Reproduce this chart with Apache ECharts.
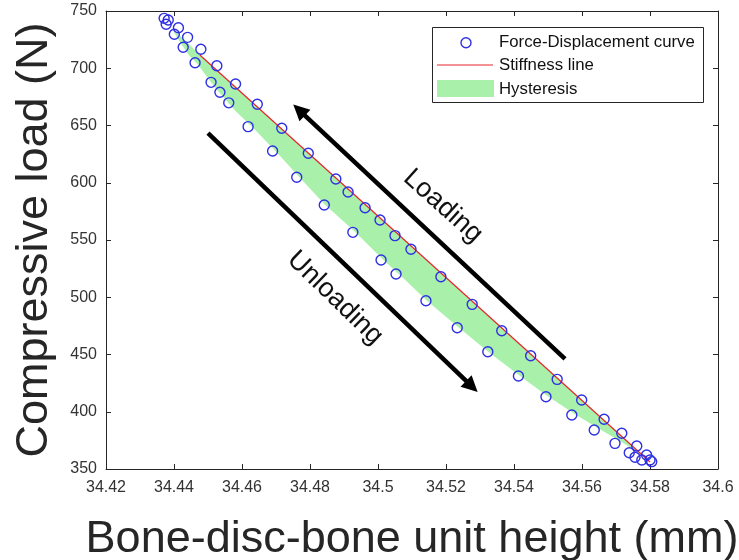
<!DOCTYPE html>
<html>
<head>
<meta charset="utf-8">
<script src="https://cdn.jsdelivr.net/npm/echarts@6/dist/echarts.min.js"></script>
<style>
  html, body { margin: 0; padding: 0; background: #ffffff; }
  #chart { width: 739px; height: 560px; }
</style>
</head>
<body>
<div id="chart"></div>
<script>
// Loading branch (height decreasing, load increasing): unit height in mm, load in N
const loadingHeight = [34.5805, 34.5790, 34.5761, 34.5717, 34.5665, 34.5599, 34.5527, 34.5449, 34.5364,
  34.5277, 34.5185, 34.5097, 34.5050, 34.5006, 34.4962, 34.4912, 34.4876, 34.4795, 34.4717, 34.4645,
  34.4581, 34.4526, 34.4479, 34.4440, 34.4413, 34.4383, 34.4371];
const loadingForce = [356.4, 362.2, 370.1, 381.2, 393.4, 410.3, 428.3, 448.9, 470.8,
  493.8, 517.9, 541.9, 553.8, 567.5, 578.2, 591.9, 603.3, 625.7, 647.6, 668.5,
  686.2, 702.2, 716.6, 727.0, 735.4, 742.1, 743.6];

// Unloading branch
const unloadingHeight = [34.4377, 34.4401, 34.4427, 34.4462, 34.4509, 34.4535, 34.4561, 34.4618, 34.4690,
  34.4761, 34.4842, 34.4926, 34.5009, 34.5053, 34.5141, 34.5233, 34.5323, 34.5413, 34.5494, 34.5570,
  34.5636, 34.5697, 34.5739, 34.5756, 34.5776, 34.5800];
const unloadingForce = [738.4, 729.7, 718.3, 704.8, 687.7, 679.0, 669.8, 649.0, 627.7,
  604.8, 580.6, 556.7, 532.5, 520.3, 496.9, 473.4, 452.4, 431.2, 413.1, 397.2,
  384.1, 372.4, 364.2, 360.2, 357.9, 357.9];

// Stiffness line end points
const stiffnessHeight = [34.4476, 34.5800];
const stiffnessForce = [711.6, 356.1];

// Hysteresis band: upper (loading) edge and lower (unloading) edge, top to bottom
const hystUpperHeight = [34.4394, 34.4435, 34.4476, 34.5800];
const hystUpperForce = [734.3, 723.8, 711.6, 356.1];
const hystLowerHeight = [34.4394, 34.4416, 34.4443, 34.4469, 34.4506, 34.4537, 34.4581, 34.4636, 34.4704,
  34.4771, 34.4842, 34.4933, 34.5013, 34.5077, 34.5145, 34.5239, 34.5325, 34.5414, 34.5494,
  34.5574, 34.5646, 34.5712, 34.5763, 34.5800];
const hystLowerForce = [734.3, 723.8, 711.6, 703.7, 688.9, 677.5, 662.7, 646.9, 626.0,
  604.1, 581.4, 557.0, 533.4, 515.9, 496.7, 473.1, 452.2, 432.1, 414.6,
  398.9, 385.8, 374.5, 364.8, 356.1];

// Direction arrows [from, to] in data units, and their captions
const loadingArrow = [[34.5550, 446.1], [34.4768, 663.5]];
const unloadingArrow = [[34.4500, 643.4], [34.5276, 422.1]];
const loadingLabelAt = [34.5191, 579.5];
const unloadingLabelAt = [34.4874, 499.3];

// Axis ranges and tick steps
const xRange = [34.42, 34.6];
const xStep = 0.02;
const yRange = [350, 750];
const yStep = 50;

const legendLabels = ['Force-Displacement curve', 'Stiffness line', 'Hysteresis'];

const BLUE = '#2f2fe4';
const RED = '#e6262b';
const GREEN = '#a9f1aa';
const INK = '#262626';
const FONT = '"Liberation Sans", Arial, Helvetica, sans-serif';

const zip = (xs, ys) => xs.map((x, i) => [x, ys[i]]);
const points = zip(loadingHeight, loadingForce).concat(zip(unloadingHeight, unloadingForce));
const hystPolygon = zip(hystUpperHeight, hystUpperForce)
  .concat(zip(hystLowerHeight, hystLowerForce).slice(1, -1).reverse());

const fmtX = v => String(parseFloat(v.toFixed(2)));

const baseX = {
  type: 'value', min: xRange[0], max: xRange[1], interval: xStep,
  splitLine: { show: false },
  axisLine: { show: true, onZero: false, lineStyle: { color: INK, width: 1 } },
  axisTick: { show: true, inside: true, length: 5, lineStyle: { color: INK } }
};
const baseY = {
  type: 'value', min: yRange[0], max: yRange[1], interval: yStep,
  splitLine: { show: false },
  axisLine: { show: true, onZero: false, lineStyle: { color: INK, width: 1 } },
  axisTick: { show: true, inside: true, length: 5, lineStyle: { color: INK } }
};

const chart = echarts.init(document.getElementById('chart'), null, { renderer: 'canvas' });

chart.setOption({
  animation: false,
  backgroundColor: '#ffffff',
  grid: { left: 106, right: 21, top: 11, bottom: 91, containLabel: false, outerBoundsMode: 'none' },
  xAxis: [
    Object.assign({}, baseX, {
      position: 'bottom',
      name: 'Bone-disc-bone unit height (mm)',
      nameLocation: 'middle', nameGap: 48,
      nameTextStyle: { fontFamily: FONT, fontSize: 45, color: INK },
      axisLabel: { margin: 11, fontFamily: FONT, fontSize: 16, color: '#333', formatter: fmtX }
    }),
    Object.assign({}, baseX, { position: 'top', axisLabel: { show: false } })
  ],
  yAxis: [
    Object.assign({}, baseY, {
      position: 'left',
      name: 'Compressive load (N)',
      nameLocation: 'middle', nameGap: 49,
      nameTextStyle: { fontFamily: FONT, fontSize: 45, color: INK },
      axisLabel: { margin: 9, fontFamily: FONT, fontSize: 16, color: '#333' }
    }),
    Object.assign({}, baseY, { position: 'right', axisLabel: { show: false } })
  ],
  series: [
    {
      name: legendLabels[2],
      type: 'custom',
      xAxisIndex: 0, yAxisIndex: 0,
      z: 1,
      silent: true,
      data: [hystPolygon[0]],
      renderItem: (params, api) => {
        if (params.dataIndex !== 0) return null;
        return {
          type: 'polygon',
          shape: { points: hystPolygon.map(p => api.coord(p)) },
          style: { fill: GREEN }
        };
      }
    },
    {
      name: legendLabels[1],
      type: 'line',
      xAxisIndex: 0, yAxisIndex: 0,
      z: 2,
      silent: true,
      showSymbol: false,
      data: zip(stiffnessHeight, stiffnessForce),
      lineStyle: { color: RED, width: 1.2 },
      markLine: {
        silent: true,
        animation: false,
        symbol: ['none', 'triangle'],
        symbolSize: [16, 16],
        label: { show: false },
        lineStyle: { color: '#000', width: 4.5, type: 'solid' },
        emphasis: { disabled: true },
        data: [
          [{ coord: loadingArrow[0] }, { coord: loadingArrow[1] }],
          [{ coord: unloadingArrow[0] }, { coord: unloadingArrow[1] }]
        ]
      }
    },
    {
      name: legendLabels[0],
      type: 'scatter',
      xAxisIndex: 0, yAxisIndex: 0,
      z: 3,
      silent: true,
      symbol: 'circle',
      symbolSize: 10,
      data: points,
      itemStyle: { color: 'rgba(0,0,0,0)', borderColor: BLUE, borderWidth: 1.4, opacity: 1 }
    }
  ]
});

// Captions along the arrows, placed in data coordinates
const toPx = p => chart.convertToPixel({ xAxisIndex: 0, yAxisIndex: 0 }, p);
const lp = toPx(loadingLabelAt);
const up = toPx(unloadingLabelAt);

// Legend box (top right inside the axes)
const lx = 432, ly = 27;
const legendFont = '16.8px ' + FONT;
chart.setOption({
  graphic: [
    {
      type: 'text', x: lp[0], y: lp[1], rotation: -0.73, z: 10,
      style: { text: 'Loading', font: '27px ' + FONT, fill: '#111', align: 'center', verticalAlign: 'middle' }
    },
    {
      type: 'text', x: up[0], y: up[1], rotation: -0.77, z: 10,
      style: { text: 'Unloading', font: '27px ' + FONT, fill: '#111', align: 'center', verticalAlign: 'middle' }
    },
    {
      type: 'group', x: lx, y: ly, z: 20,
      children: [
        { type: 'rect', shape: { x: 0.5, y: 0.5, width: 271, height: 75 },
          style: { fill: '#ffffff', stroke: INK, lineWidth: 1 } },
        { type: 'circle', shape: { cx: 34, cy: 15.7, r: 5 },
          style: { fill: 'none', stroke: BLUE, lineWidth: 1.4 } },
        { type: 'line', shape: { x1: 5, y1: 38, x2: 61, y2: 38 },
          style: { stroke: RED, lineWidth: 1.2 } },
        { type: 'rect', shape: { x: 5, y: 53, width: 57, height: 17 },
          style: { fill: GREEN } },
        { type: 'text', x: 67, y: 15.7,
          style: { text: legendLabels[0], font: legendFont, fill: '#111', verticalAlign: 'middle' } },
        { type: 'text', x: 67, y: 38,
          style: { text: legendLabels[1], font: legendFont, fill: '#111', verticalAlign: 'middle' } },
        { type: 'text', x: 67, y: 62,
          style: { text: legendLabels[2], font: legendFont, fill: '#111', verticalAlign: 'middle' } }
      ]
    }
  ]
});
</script>
</body>
</html>
